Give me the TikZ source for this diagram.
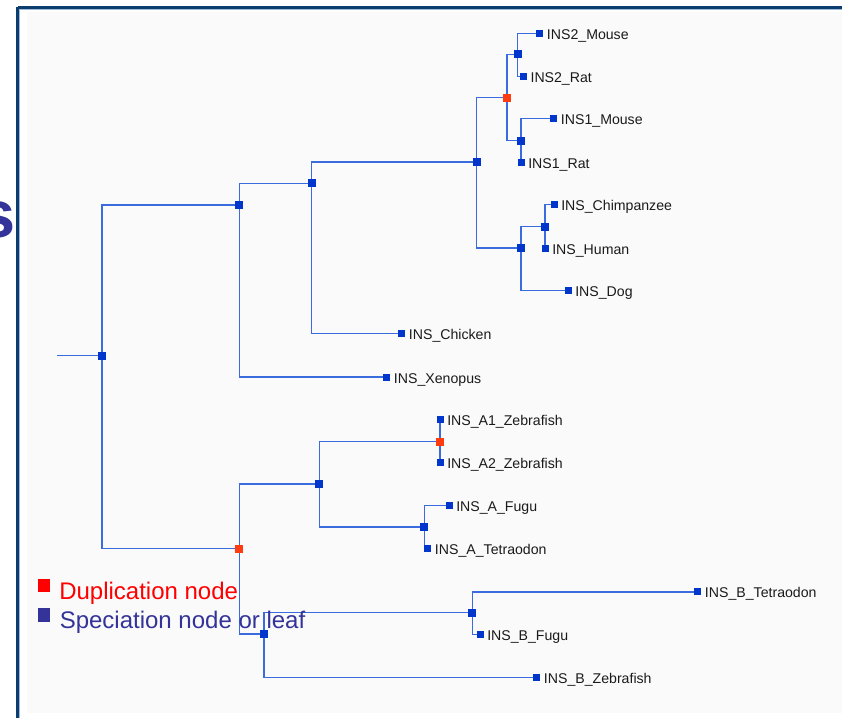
\documentclass[tikz,border=0pt]{standalone}
\usepackage{fontspec}
\setmainfont{Liberation Sans}
\usetikzlibrary{calc}
\pgfdeclarelayer{back}
\pgfdeclarelayer{edges}
\pgfsetlayers{back,edges,main}
\definecolor{framenavy}{HTML}{0B3D6E}
\definecolor{framelight}{HTML}{9DB8D9}
\definecolor{panelgray}{HTML}{FAFAFA}
\definecolor{edgeblue}{HTML}{3A6CE0}
\definecolor{nodeblue}{HTML}{0036CC}
\definecolor{duplred}{HTML}{FF3B10}
\definecolor{legendred}{HTML}{FF0000}
\definecolor{legendblue}{HTML}{333399}
\definecolor{labeltext}{HTML}{1A1A1A}
\tikzset{
  inode/.style={rectangle, fill=nodeblue, draw=none, minimum size=6pt, inner sep=0pt},
  dnode/.style={rectangle, fill=duplred, draw=none, minimum size=6pt, inner sep=0pt},
  leaf/.style={rectangle, fill=nodeblue, draw=none, minimum size=5.25pt, inner sep=0pt},
  lbl/.style={anchor=base west, inner sep=0pt, text=labeltext, font=\fontsize{10.6}{12}\selectfont},
  edge/.style={draw=edgeblue, line width=1.15pt},
  legtext/.style={anchor=base west, inner sep=0pt, font=\fontsize{18}{20}\selectfont},
}
\begin{document}
\begin{tikzpicture}[x=0.75pt, y=-0.75pt]
\useasboundingbox (0,0) rectangle (842,718);
\clip (0,0) rectangle (842,718);
\begin{pgfonlayer}{back}
  \fill[white] (0,0) rectangle (842,718);
  \fill[panelgray] (27,12) rectangle (842,713);
  \draw[framenavy, line width=2pt] (17.5,7.3) -- (842,7.3);
  \draw[framenavy, line width=2pt] (17.5,7.3) -- (17.5,718);
  \draw[framelight, line width=0.8pt] (19.4,9.3) -- (842,9.3);
  \draw[framelight, line width=0.8pt] (19.4,9.3) -- (19.4,718);
\end{pgfonlayer}

% big cropped letter
\node[anchor=base east, inner sep=0pt, text=legendblue, font=\fontsize{50}{50}\selectfont\bfseries] (bigs) at (15.5,237) {s};

% internal nodes
\coordinate (stub) at (57.3,355.5);
\node[inode] (root) at (102,355.5) {};
\node[inode] (n1) at (239.3,204.8) {};
\node[inode] (n2) at (311.5,183.3) {};
\node[inode] (n3) at (476.7,162.2) {};
\node[dnode] (d1) at (507.2,97.7) {};
\node[inode] (n4) at (517.7,54.3) {};
\node[inode] (n5) at (521,140.5) {};
\node[inode] (n6) at (521,248.2) {};
\node[inode] (n7) at (545,226.5) {};
\node[dnode] (d2) at (239.3,548.5) {};
\node[inode] (n8) at (319.3,484.2) {};
\node[dnode] (d3) at (440,441.5) {};
\node[inode] (n9) at (424.3,526.8) {};
\node[inode] (n10) at (264,634.2) {};
\node[inode] (n11) at (472.3,612.5) {};

% leaves
\node[leaf] (l2m) at (539.7,33.7) {};
\node[leaf] (l2r) at (523.3,76.3) {};
\node[leaf] (l1m) at (553.7,118.7) {};
\node[leaf] (l1r) at (521,162) {};
\node[leaf] (lch) at (554,204.7) {};
\node[leaf] (lhu) at (545,248) {};
\node[leaf] (ldo) at (568,290.7) {};
\node[leaf] (lck) at (401.7,333.3) {};
\node[leaf] (lxe) at (386.7,377) {};
\node[leaf] (la1) at (440,419.5) {};
\node[leaf] (la2) at (440,462.5) {};
\node[leaf] (laf) at (449,505.6) {};
\node[leaf] (lat) at (427.7,548) {};
\node[leaf] (lbt) at (697.7,591.8) {};
\node[leaf] (lbf) at (480,634.5) {};
\node[leaf] (lbz) at (536.7,677.5) {};

% labels
\node[lbl] (t2m) at ($(l2m)+(7,6)$) {INS2\_Mouse};
\node[lbl] (t2r) at ($(l2r)+(7,6)$) {INS2\_Rat};
\node[lbl] (t1m) at ($(l1m)+(7,6)$) {INS1\_Mouse};
\node[lbl] (t1r) at ($(l1r)+(7,6)$) {INS1\_Rat};
\node[lbl] (tch) at ($(lch)+(7,6)$) {INS\_Chimpanzee};
\node[lbl] (thu) at ($(lhu)+(7,6)$) {INS\_Human};
\node[lbl] (tdo) at ($(ldo)+(7,6)$) {INS\_Dog};
\node[lbl] (tck) at ($(lck)+(7,6)$) {INS\_Chicken};
\node[lbl] (txe) at ($(lxe)+(7,6)$) {INS\_Xenopus};
\node[lbl] (ta1) at ($(la1)+(7,6)$) {INS\_A1\_Zebrafish};
\node[lbl] (ta2) at ($(la2)+(7,6)$) {INS\_A2\_Zebrafish};
\node[lbl] (taf) at ($(laf)+(7,6)$) {INS\_A\_Fugu};
\node[lbl] (tat) at ($(lat)+(7,6)$) {INS\_A\_Tetraodon};
\node[lbl] (tbt) at ($(lbt)+(7,6)$) {INS\_B\_Tetraodon};
\node[lbl] (tbf) at ($(lbf)+(7,6)$) {INS\_B\_Fugu};
\node[lbl] (tbz) at ($(lbz)+(7,6)$) {INS\_B\_Zebrafish};

% edges
\begin{pgfonlayer}{edges}
  \draw[edge] (stub) -- (root.center);
  \draw[edge] (root.center) |- (n1.center);
  \draw[edge] (root.center) |- (d2.center);
  \draw[edge] (n1.center) |- (n2.center);
  \draw[edge] (n1.center) |- (lxe.center);
  \draw[edge] (n2.center) |- (n3.center);
  \draw[edge] (n2.center) |- (lck.center);
  \draw[edge] (n3.center) |- (d1.center);
  \draw[edge] (n3.center) |- (n6.center);
  \draw[edge] (d1.center) |- (n4.center);
  \draw[edge] (d1.center) |- (n5.center);
  \draw[edge] (n4.center) |- (l2m.center);
  \draw[edge] (n4.center) |- (l2r.center);
  \draw[edge] (n5.center) |- (l1m.center);
  \draw[edge] (n5.center) |- (l1r.center);
  \draw[edge] (n6.center) |- (n7.center);
  \draw[edge] (n6.center) |- (ldo.center);
  \draw[edge] (n7.center) |- (lch.center);
  \draw[edge] (n7.center) |- (lhu.center);
  \draw[edge] (d2.center) |- (n8.center);
  \draw[edge] (d2.center) |- (n10.center);
  \draw[edge] (n8.center) |- (d3.center);
  \draw[edge] (n8.center) |- (n9.center);
  \draw[edge] (d3.center) |- (la1.center);
  \draw[edge] (d3.center) |- (la2.center);
  \draw[edge] (n9.center) |- (laf.center);
  \draw[edge] (n9.center) |- (lat.center);
  \draw[edge] (n10.center) |- (n11.center);
  \draw[edge] (n10.center) |- (lbz.center);
  \draw[edge] (n11.center) |- (lbt.center);
  \draw[edge] (n11.center) |- (lbf.center);
\end{pgfonlayer}

% legend
\node[rectangle, fill=legendred, minimum width=9pt, minimum height=9.3pt, inner sep=0pt] (kdup) at (44.2,585.5) {};
\node[rectangle, fill=legendblue, minimum width=9pt, minimum height=10.2pt, inner sep=0pt] (kspe) at (44.2,614.7) {};
\node[legtext, text=legendred] (tdup) at (59,599) {Duplication node};
\node[legtext, text=legendblue] (tspe) at (59.5,628) {Speciation node or leaf};
\end{tikzpicture}
\end{document}
